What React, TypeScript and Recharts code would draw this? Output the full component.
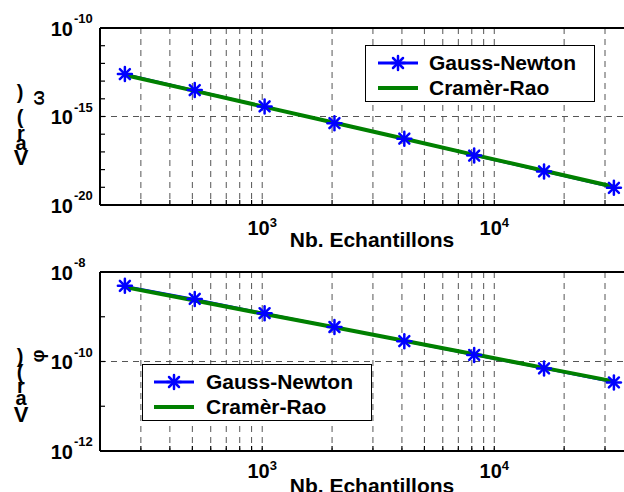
import React from "react";
import {
  LineChart,
  Line,
  XAxis,
  YAxis,
  CartesianGrid,
  ReferenceLine,
  Legend,
} from "recharts";

// nombre d'échantillons
const samples = [256, 512, 1024, 2048, 4096, 8192, 16384, 32768];

// variance de la fréquence
const freqGaussNewton = [2.5e-13, 3.1e-14, 3.7e-15, 4.2e-16, 5.6e-17, 6.2e-18, 7.9e-19, 9.3e-20];
const freqCramerRao = [2.2e-13, 2.8e-14, 3.5e-15, 4.4e-16, 5.5e-17, 6.8e-18, 8.6e-19, 1.07e-19];

// variance de la phase
const phaseGaussNewton = [4.9e-9, 2.5e-9, 1.2e-9, 5.9e-10, 2.85e-10, 1.4e-10, 7.0e-11, 3.4e-11];
const phaseCramerRao = [4.6e-9, 2.3e-9, 1.15e-9, 5.8e-10, 2.9e-10, 1.45e-10, 7.2e-11, 3.6e-11];

const seriesNames = ["Gauss-Newton", "Cramèr-Rao"];
const xTitle = "Nb. Echantillons";

const xTicks = [
  300, 400, 500, 600, 700, 800, 900, 1000,
  2000, 3000, 4000, 5000, 6000, 7000, 8000, 9000, 10000,
  20000, 30000,
];
const xLabelTicks = [1000, 10000];

const freqYTicks = [1e-20, 1e-19, 1e-18, 1e-17, 1e-16, 1e-15, 1e-14, 1e-13, 1e-12, 1e-11, 1e-10];
const freqYLabels = [1e-20, 1e-15, 1e-10];
const phaseYTicks = [1e-12, 1e-11, 1e-10, 1e-9, 1e-8];
const phaseYLabels = [1e-12, 1e-10, 1e-8];

const BLUE = "#0000ff";
const GREEN = "#008000";
const GRID = "#555";
const FONT = '"Liberation Sans", Arial, sans-serif';

const freqData = samples.map((n, i) => ({ n, gn: freqGaussNewton[i], crb: freqCramerRao[i] }));
const phaseData = samples.map((n, i) => ({ n, gn: phaseGaussNewton[i], crb: phaseCramerRao[i] }));

const expo = (v: number) => Math.round(Math.log10(v));

const big = { fontFamily: FONT, fontWeight: 700, fontSize: 20, fill: "#000" };
const small = { fontFamily: FONT, fontWeight: 700, fontSize: 13, fill: "#000" };

function Asterisk({ cx, cy }: { cx: number; cy: number }) {
  const r = 7;
  const d = 5;
  return (
    <g stroke={BLUE} strokeWidth={2.5} strokeLinecap="round">
      <line x1={cx - r} y1={cy} x2={cx + r} y2={cy} />
      <line x1={cx} y1={cy - r} x2={cx} y2={cy + r} />
      <line x1={cx - d} y1={cy - d} x2={cx + d} y2={cy + d} />
      <line x1={cx - d} y1={cy + d} x2={cx + d} y2={cy - d} />
    </g>
  );
}

function XTick(props: any) {
  const { x, y, payload, labelDy } = props;
  const v = payload.value;
  const show = xLabelTicks.includes(v);
  return (
    <g>
      <line x1={x} x2={x} y1={y} y2={y - 5} stroke="#000" strokeWidth={1.2} />
      {show && (
        <text x={x} y={y + labelDy} textAnchor="middle" style={big}>
          10
          <tspan dy={-8} style={small}>
            {expo(v)}
          </tspan>
        </text>
      )}
    </g>
  );
}

function YTick(props: any) {
  const { x, y, payload, labels } = props;
  const e = expo(payload.value);
  const show = labels.some((l: number) => expo(l) === e);
  return (
    <g>
      <line x1={x} x2={x + 5} y1={y} y2={y} stroke="#000" strokeWidth={1.2} />
      {show && (
        <g>
          <text x={x - 27} y={y + 7.5} textAnchor="end" style={big}>
            10
          </text>
          <text x={x - 26} y={y - 5} textAnchor="start" style={small}>
            {e}
          </text>
        </g>
      )}
    </g>
  );
}

function XTitle(props: any) {
  const { viewBox, dy } = props;
  const { y } = viewBox;
  return (
    <text x={372} y={y + dy} textAnchor="middle" style={{ ...big, fontSize: 21 }}>
      {xTitle}
    </text>
  );
}

function LegendBox({ lineX, textX }: { lineX: number; textX: number }) {
  const rows = [
    { name: seriesNames[0], color: BLUE, width: 3, marker: true, y: 17 },
    { name: seriesNames[1], color: GREEN, width: 4, marker: false, y: 42 },
  ];
  return (
    <div
      style={{
        position: "relative",
        width: 228,
        height: 55,
        border: "1px solid #000",
        background: "#fff",
        fontFamily: FONT,
        fontWeight: "bold",
        fontSize: 21,
        color: "#000",
      }}
    >
      <svg width={60} height={55} style={{ position: "absolute", left: 0, top: 0 }}>
        {rows.map((r) => (
          <g key={r.name}>
            <line x1={lineX} x2={lineX + 40} y1={r.y} y2={r.y} stroke={r.color} strokeWidth={r.width} />
            {r.marker && <Asterisk cx={lineX + 20} cy={r.y} />}
          </g>
        ))}
      </svg>
      {rows.map((r) => (
        <div
          key={r.name}
          style={{ position: "absolute", left: textX, top: r.y - 12, lineHeight: "24px", whiteSpace: "nowrap" }}
        >
          {r.name}
        </div>
      ))}
    </div>
  );
}

function VarLabel({ sym, top }: { sym: string; top: number[] }) {
  // baselines of ")", sym, "(", "r", "a", "V"
  const [p1, s, p2, r, a, v] = top;
  const st = { fontFamily: FONT, fontWeight: 700, fontSize: 20, fill: "#000" };
  return (
    <svg width={60} height={492} style={{ position: "absolute", left: 0, top: 0 }}>
      <g textAnchor="middle">
        <text x={20} y={p1} style={st}>)</text>
        <text
          x={38}
          y={s}
          style={{ ...st, fontSize: 18 }}
          dominantBaseline="central"
          transform={`rotate(-90 38 ${s})`}
        >
          {sym}
        </text>
        <text x={20} y={p2} style={st}>(</text>
        <text x={21} y={r} style={st}>r</text>
        <text x={21} y={a} style={st}>a</text>
        <text x={21} y={v} style={{ ...st, fontSize: 22 }}>V</text>
      </g>
    </svg>
  );
}

function Panel(props: {
  data: any[];
  height: number;
  margin: { top: number; right: number; bottom: number; left: number };
  domain: [number, number];
  yTicks: number[];
  yLabels: number[];
  gridY: number;
  topY: number;
  tickDy: number;
  titleDy: number;
  legendPos: { left: number; top: number; lineX: number; textX: number };
}) {
  const { data, height, margin, domain, yTicks, yLabels, gridY, topY, tickDy, titleDy, legendPos } = props;
  return (
    <LineChart width={660} height={height} data={data} margin={margin}>
      <CartesianGrid horizontal={false} stroke={GRID} strokeDasharray="6 5" />
      <ReferenceLine y={gridY} stroke={GRID} strokeDasharray="6 5" />
      <ReferenceLine y={topY} stroke="#000" strokeWidth={2} />
      <XAxis
        dataKey="n"
        type="number"
        scale="log"
        domain={[200, 40000]}
        allowDataOverflow
        ticks={xTicks}
        interval={0}
        height={25}
        tickSize={0}
        tickMargin={0}
        tickLine={false}
        axisLine={{ stroke: "#000", strokeWidth: 2 }}
        tick={(p: any) => <XTick {...p} labelDy={tickDy} />}
        label={<XTitle dy={titleDy} />}
      />
      <YAxis
        type="number"
        scale="log"
        domain={domain}
        allowDataOverflow
        ticks={yTicks}
        interval={0}
        width={100}
        tickSize={0}
        tickMargin={0}
        tickLine={false}
        axisLine={{ stroke: "#000", strokeWidth: 2 }}
        tick={(p: any) => <YTick {...p} labels={yLabels} />}
      />
      <Legend
        layout="horizontal"
        verticalAlign="middle"
        align="center"
        wrapperStyle={{ left: legendPos.left, top: legendPos.top, width: 230, height: 57 }}
        content={() => <LegendBox lineX={legendPos.lineX} textX={legendPos.textX} />}
      />
      <Line
        dataKey="gn"
        name={seriesNames[0]}
        stroke={BLUE}
        strokeWidth={2}
        isAnimationActive={false}
        dot={(p: any) => <Asterisk key={p.index} cx={p.cx} cy={p.cy} />}
      />
      <Line
        dataKey="crb"
        name={seriesNames[1]}
        stroke={GREEN}
        strokeWidth={4}
        dot={false}
        isAnimationActive={false}
      />
    </LineChart>
  );
}

export default function App() {
  return (
    <div
      style={{
        position: "absolute",
        left: 0,
        top: 0,
        width: 624,
        height: 492,
        overflow: "hidden",
        background: "#fff",
      }}
    >
      <div style={{ position: "absolute", left: 0, top: 0 }}>
        <Panel
          data={freqData}
          height={255}
          margin={{ top: 28, right: 26, bottom: 25, left: 0 }}
          domain={[1e-20, 1e-10]}
          yTicks={freqYTicks}
          yLabels={freqYLabels}
          gridY={1e-15}
          topY={1e-10}
          tickDy={30}
          titleDy={42}
          legendPos={{ left: 365, top: 45, lineX: 12, textX: 63 }}
        />
      </div>
      <div style={{ position: "absolute", left: 0, top: 240 }}>
        <Panel
          data={phaseData}
          height={260}
          margin={{ top: 32, right: 26, bottom: 24, left: 0 }}
          domain={[1e-12, 1e-8]}
          yTicks={phaseYTicks}
          yLabels={phaseYLabels}
          gridY={1e-10}
          topY={1e-8}
          tickDy={27}
          titleDy={42}
          legendPos={{ left: 142, top: 124, lineX: 11, textX: 63 }}
        />
      </div>
      <VarLabel sym="ω" top={[99, 98, 124, 140, 150, 165]} />
      <VarLabel sym="φ" top={[363, 356, 379, 393, 405, 422]} />
    </div>
  );
}
